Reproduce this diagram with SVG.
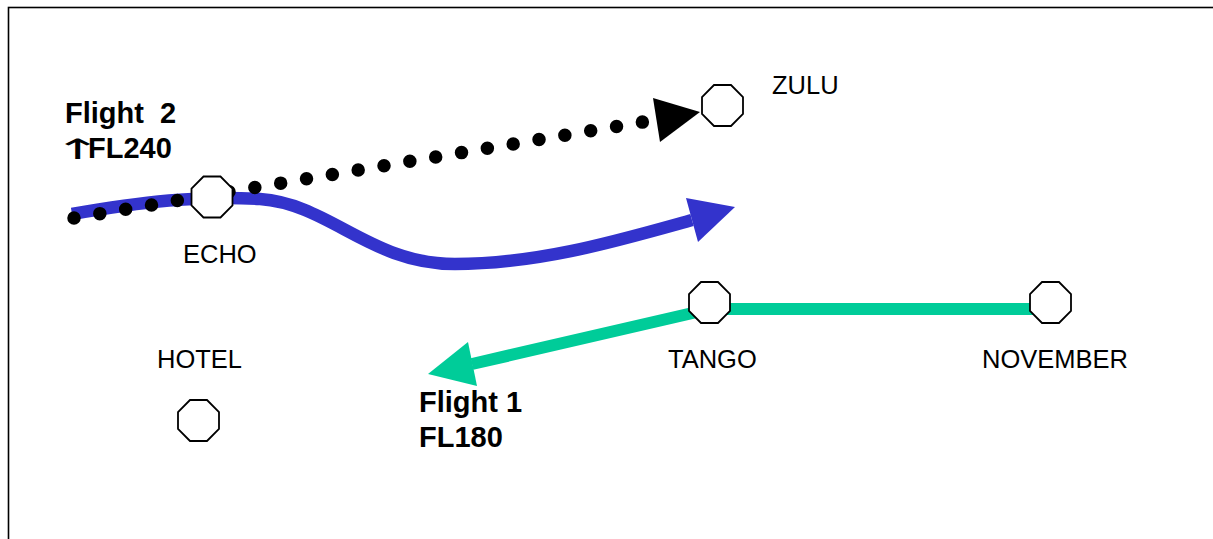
<svg xmlns="http://www.w3.org/2000/svg" width="1213" height="539" viewBox="0 0 1213 539">
<style>
.node{fill:#fff;stroke:#000;stroke-width:1.8}
.lbl{font-family:"Liberation Sans",Arial,sans-serif;font-size:25.5px;fill:#000}
.bold{font-family:"Liberation Sans",Arial,sans-serif;font-size:29px;font-weight:bold;fill:#000;white-space:pre}
.arr{font-family:"DejaVu Sans",sans-serif;font-size:28px;fill:#000}
</style>
<defs>
<polygon id="oct" points="-8.5,-20.5 8.5,-20.5 20.5,-8.5 20.5,8.5 8.5,20.5 -8.5,20.5 -20.5,8.5 -20.5,-8.5"/>
</defs>
<rect x="8.5" y="7.5" width="1300" height="600" fill="#fff" stroke="#000" stroke-width="1.6"/>
<g id="connectors">
<path d="M 1050,309 L 710,309 L 472,364" fill="none" stroke="#00CC99" stroke-width="12" stroke-linejoin="round"/>
<polygon points="428,374 468,342 477,386" fill="#00CC99"/>
<path d="M 72,214 C 140,202 200,195 260,199 C 330,204 370,264 455,264 C 540,264 620,240 692,220" fill="none" stroke="#3333CC" stroke-width="12.5"/>
<polygon points="735,207 686,198 698,242" fill="#3333CC"/>
<path d="M 74,218 L 643,122" fill="none" stroke="#000" stroke-width="13.5" stroke-linecap="round" stroke-dasharray="0 26.2"/>
<polygon points="700,112 653,98 660,142" fill="#000"/>
</g>
<g id="zulu"><use href="#oct" class="node" x="722.5" y="105.5"/><text class="lbl" x="772" y="94">ZULU</text></g>
<g id="echo"><use href="#oct" class="node" x="212" y="197"/><text class="lbl" x="183" y="263">ECHO</text></g>
<g id="hotel"><use href="#oct" class="node" x="198.5" y="420.5"/><text class="lbl" x="157" y="368">HOTEL</text></g>
<g id="tango"><use href="#oct" class="node" x="709.5" y="302.5"/><text class="lbl" x="668" y="368">TANGO</text></g>
<g id="november"><use href="#oct" class="node" x="1050.5" y="302.5"/><text class="lbl" x="982" y="368">NOVEMBER</text></g>
<g id="flight2"><text class="bold" x="65" y="123">Flight  2</text><text class="arr" transform="translate(53,159) scale(2.1,1)">↑</text><text class="bold" x="88" y="158">FL240</text></g>
<g id="flight1"><text class="bold" x="419" y="412">Flight 1</text><text class="bold" x="419" y="447">FL180</text></g>
</svg>
